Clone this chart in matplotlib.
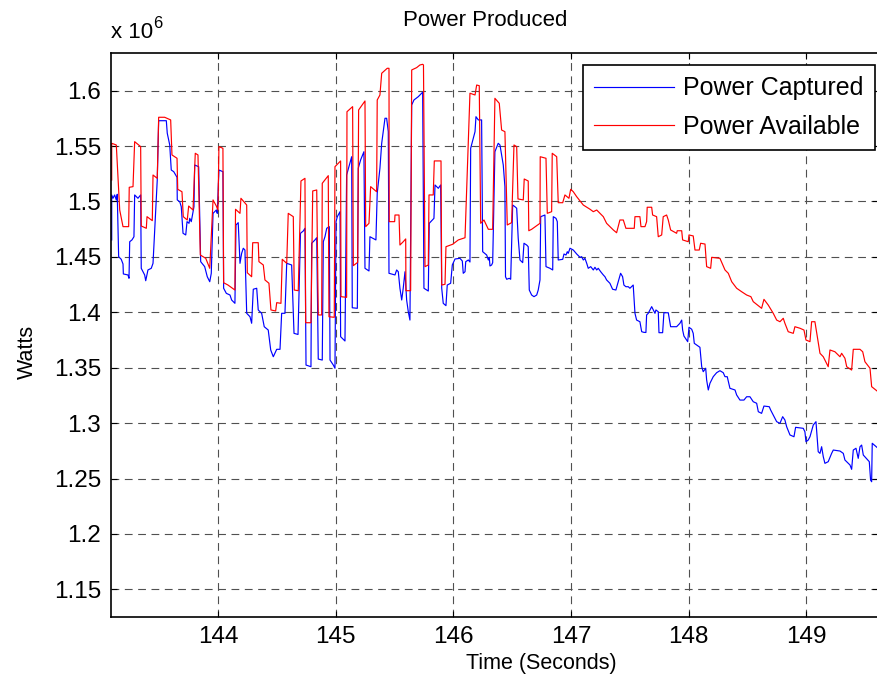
import matplotlib
matplotlib.use("Agg")
import matplotlib.pyplot as plt

plt.rcParams['font.family'] = ['Liberation Sans', 'DejaVu Sans']

# Time axis and power values (units of 10^6 W)
t_captured = [
    143.097, 143.097, 143.108, 143.122, 143.136, 143.144, 143.156, 143.178, 143.193, 143.196,
    143.235, 143.244, 143.250, 143.269, 143.286, 143.292, 143.320, 143.343, 143.348, 143.377,
    143.386, 143.405, 143.433, 143.448, 143.484, 143.496, 143.561, 143.569, 143.590, 143.603,
    143.624, 143.652, 143.654, 143.675, 143.688, 143.703, 143.726, 143.737, 143.754, 143.760,
    143.773, 143.796, 143.802, 143.836, 143.853, 143.887, 143.909, 143.930, 143.943, 143.958,
    143.986, 143.994, 144.008, 144.042, 144.048, 144.071, 144.102, 144.116, 144.144, 144.153,
    144.172, 144.187, 144.201, 144.215, 144.229, 144.244, 144.272, 144.286, 144.300, 144.329,
    144.342, 144.371, 144.393, 144.427, 144.448, 144.470, 144.499, 144.527, 144.541, 144.569,
    144.584, 144.626, 144.646, 144.680, 144.701, 144.725, 144.739, 144.748, 144.790, 144.796,
    144.824, 144.839, 144.852, 144.886, 144.895, 144.909, 144.924, 144.946, 144.952, 144.980,
    144.994, 145.003, 145.014, 145.037, 145.042, 145.079, 145.093, 145.116, 145.136, 145.141,
    145.184, 145.192, 145.212, 145.240, 145.249, 145.283, 145.291, 145.342, 145.353, 145.376,
    145.391, 145.419, 145.433, 145.447, 145.453, 145.504, 145.518, 145.532, 145.546, 145.561,
    145.574, 145.589, 145.603, 145.617, 145.631, 145.646, 145.665, 145.702, 145.739, 145.750,
    145.787, 145.795, 145.835, 145.844, 145.872, 145.892, 145.901, 145.914, 145.937, 145.948,
    145.977, 145.991, 146.014, 146.056, 146.076, 146.084, 146.099, 146.105, 146.127, 146.141,
    146.147, 146.184, 146.192, 146.212, 146.240, 146.249, 146.283, 146.297, 146.305, 146.311,
    146.325, 146.334, 146.353, 146.381, 146.396, 146.424, 146.438, 146.443, 146.453, 146.475,
    146.487, 146.504, 146.523, 146.538, 146.551, 146.566, 146.589, 146.600, 146.623, 146.636,
    146.645, 146.665, 146.685, 146.708, 146.721, 146.736, 146.742, 146.778, 146.787, 146.821,
    146.844, 146.849, 146.872, 146.883, 146.891, 146.929, 146.940, 146.957, 146.968, 146.976,
    146.991, 147.019, 147.048, 147.076, 147.090, 147.104, 147.118, 147.133, 147.146, 147.167,
    147.189, 147.203, 147.218, 147.231, 147.252, 147.274, 147.288, 147.302, 147.330, 147.353,
    147.381, 147.401, 147.421, 147.438, 147.449, 147.466, 147.486, 147.500, 147.528, 147.543,
    147.557, 147.585, 147.600, 147.619, 147.636, 147.642, 147.656, 147.685, 147.713, 147.721,
    147.741, 147.747, 147.778, 147.789, 147.826, 147.846, 147.897, 147.925, 147.940, 147.948,
    147.959, 147.991, 148.002, 148.025, 148.038, 148.047, 148.095, 148.110, 148.123, 148.144,
    148.152, 148.166, 148.180, 148.208, 148.237, 148.265, 148.293, 148.308, 148.327, 148.350,
    148.393, 148.407, 148.435, 148.469, 148.492, 148.520, 148.548, 148.577, 148.591, 148.619,
    148.639, 148.684, 148.696, 148.718, 148.747, 148.775, 148.798, 148.817, 148.832, 148.860,
    148.894, 148.908, 148.973, 148.987, 148.996, 149.015, 149.030, 149.058, 149.081, 149.100,
    149.115, 149.129, 149.143, 149.157, 149.185, 149.214, 149.228, 149.285, 149.313, 149.327,
    149.370, 149.384, 149.398, 149.421, 149.440, 149.455, 149.469, 149.483, 149.534, 149.545,
    149.554, 149.559, 149.608,
]
power_captured = [
    1.4653, 1.5059, 1.5029, 1.5059, 1.5014, 1.5065, 1.4502, 1.4478, 1.4436, 1.4346,
    1.4337, 1.4307, 1.4637, 1.4653, 1.4682, 1.5059, 1.5029, 1.5059, 1.4397, 1.4337,
    1.4285, 1.4382, 1.4397, 1.4442, 1.5194, 1.5729, 1.5729, 1.5616, 1.5510, 1.5284,
    1.5269, 1.5218, 1.5014, 1.4998, 1.4953, 1.4713, 1.4698, 1.4818, 1.4803, 1.4848,
    1.4818, 1.4953, 1.5329, 1.5314, 1.4457, 1.4412, 1.4321, 1.4276, 1.4352, 1.4893,
    1.4923, 1.4893, 1.5284, 1.5269, 1.4217, 1.4171, 1.4156, 1.4111, 1.4081, 1.4788,
    1.4809, 1.4442, 1.4532, 1.4578, 1.4562, 1.3991, 1.3960, 1.3901, 1.4208, 1.4217,
    1.4021, 1.3991, 1.3870, 1.3840, 1.3660, 1.3599, 1.3666, 1.3666, 1.3991, 1.3991,
    1.4442, 1.4427, 1.3810, 1.3800, 1.4713, 1.4734, 1.4758, 1.3524, 1.3509, 1.4623,
    1.4653, 1.4673, 1.3578, 1.3569, 1.4637, 1.4682, 1.4758, 1.4773, 1.3569, 1.3524,
    1.3495, 1.4818, 1.4863, 1.4908, 1.3780, 1.3741, 1.5239, 1.5329, 1.5404, 1.4041,
    1.4036, 1.5300, 1.5375, 1.5449, 1.4397, 1.4373, 1.4682, 1.4653, 1.5074, 1.5300,
    1.5525, 1.5751, 1.5751, 1.5630, 1.4352, 1.4337, 1.4382, 1.4366, 1.4217, 1.4111,
    1.4217, 1.4366, 1.4111, 1.4005, 1.3930, 1.5871, 1.5916, 1.5946, 1.5986, 1.4217,
    1.4192, 1.4803, 1.4848, 1.5149, 1.5119, 1.5149, 1.4217, 1.4081, 1.4060, 1.4246,
    1.4262, 1.4427, 1.4481, 1.4487, 1.4463, 1.4352, 1.4366, 1.4457, 1.4472, 1.4454,
    1.5480, 1.5630, 1.5765, 1.5736, 1.5736, 1.4547, 1.4517, 1.4472, 1.4496, 1.4418,
    1.4427, 1.4448, 1.5449, 1.5525, 1.5510, 1.5329, 1.5134, 1.4321, 1.4298, 1.4307,
    1.4298, 1.4968, 1.4953, 1.4939, 1.4668, 1.4472, 1.4448, 1.4623, 1.4607, 1.4592,
    1.4201, 1.4156, 1.4141, 1.4156, 1.4201, 1.4292, 1.4863, 1.4878, 1.4412, 1.4397,
    1.4382, 1.4863, 1.4848, 1.4818, 1.4472, 1.4478, 1.4526, 1.4517, 1.4547, 1.4532,
    1.4578, 1.4562, 1.4526, 1.4496, 1.4502, 1.4472, 1.4487, 1.4442, 1.4397, 1.4412,
    1.4382, 1.4406, 1.4382, 1.4397, 1.4366, 1.4337, 1.4321, 1.4292, 1.4262, 1.4208,
    1.4201, 1.4276, 1.4352, 1.4321, 1.4246, 1.4231, 1.4231, 1.4217, 1.4246, 1.3991,
    1.3930, 1.3915, 1.3825, 1.3819, 1.3818, 1.3976, 1.3991, 1.4051, 1.3991, 1.4021,
    1.4005, 1.3816, 1.3816, 1.3996, 1.3996, 1.3870, 1.3870, 1.3901, 1.3930, 1.3840,
    1.3786, 1.3735, 1.3865, 1.3847, 1.3810, 1.3720, 1.3684, 1.3509, 1.3464, 1.3495,
    1.3389, 1.3299, 1.3359, 1.3419, 1.3455, 1.3473, 1.3455, 1.3419, 1.3419, 1.3314,
    1.3299, 1.3254, 1.3208, 1.3208, 1.3238, 1.3238, 1.3193, 1.3179, 1.3103, 1.3088,
    1.3154, 1.3148, 1.3118, 1.3073, 1.3013, 1.2998, 1.3058, 1.3028, 1.2967, 1.2893,
    1.2877, 1.2962, 1.2953, 1.2922, 1.2832, 1.2847, 1.2877, 1.2983, 1.3013, 1.2742,
    1.2727, 1.2787, 1.2697, 1.2637, 1.2652, 1.2727, 1.2757, 1.2748, 1.2727, 1.2667,
    1.2622, 1.2583, 1.2757, 1.2773, 1.2682, 1.2787, 1.2802, 1.2712, 1.2652, 1.2486,
    1.2471, 1.2818, 1.2773,
]

t_available = [
    143.097, 143.097, 143.136, 143.165, 143.193, 143.241, 143.246, 143.278, 143.292, 143.343,
    143.348, 143.391, 143.397, 143.442, 143.448, 143.484, 143.496, 143.547, 143.598, 143.609,
    143.652, 143.658, 143.694, 143.705, 143.739, 143.751, 143.788, 143.807, 143.830, 143.850,
    143.896, 143.930, 143.958, 143.986, 144.000, 144.008, 144.042, 144.048, 144.085, 144.144,
    144.149, 144.187, 144.195, 144.244, 144.249, 144.286, 144.295, 144.342, 144.348, 144.385,
    144.399, 144.433, 144.450, 144.490, 144.499, 144.535, 144.546, 144.584, 144.597, 144.640,
    144.648, 144.682, 144.705, 144.739, 144.745, 144.790, 144.805, 144.839, 144.852, 144.881,
    144.886, 144.937, 144.943, 144.988, 144.994, 145.042, 145.045, 145.093, 145.096, 145.144,
    145.150, 145.187, 145.195, 145.249, 145.255, 145.283, 145.297, 145.348, 145.353, 145.376,
    145.391, 145.438, 145.453, 145.455, 145.501, 145.504, 145.538, 145.546, 145.574, 145.595,
    145.597, 145.637, 145.646, 145.688, 145.716, 145.739, 145.746, 145.759, 145.787, 145.793,
    145.829, 145.838, 145.895, 145.901, 145.929, 145.937, 145.994, 146.042, 146.099, 146.141,
    146.184, 146.198, 146.220, 146.232, 146.260, 146.297, 146.334, 146.353, 146.390, 146.410,
    146.438, 146.458, 146.495, 146.515, 146.538, 146.549, 146.594, 146.602, 146.636, 146.641,
    146.665, 146.736, 146.738, 146.787, 146.798, 146.835, 146.840, 146.878, 146.891, 146.929,
    146.948, 146.982, 146.997, 147.019, 147.048, 147.104, 147.161, 147.189, 147.218, 147.246,
    147.274, 147.302, 147.359, 147.387, 147.415, 147.444, 147.466, 147.537, 147.543, 147.585,
    147.594, 147.628, 147.642, 147.647, 147.685, 147.693, 147.727, 147.741, 147.770, 147.783,
    147.812, 147.826, 147.846, 147.897, 147.902, 147.940, 147.948, 147.996, 148.002, 148.038,
    148.053, 148.089, 148.101, 148.138, 148.152, 148.186, 148.195, 148.265, 148.308, 148.336,
    148.365, 148.407, 148.449, 148.492, 148.528, 148.548, 148.619, 148.639, 148.675, 148.718,
    148.747, 148.775, 148.803, 148.817, 148.845, 148.888, 148.902, 148.945, 148.979, 148.996,
    149.030, 149.044, 149.072, 149.092, 149.115, 149.143, 149.185, 149.200, 149.242, 149.285,
    149.299, 149.327, 149.342, 149.384, 149.398, 149.455, 149.478, 149.497, 149.540, 149.554,
    149.608,
]
power_available = [
    1.5194, 1.5525, 1.5510, 1.4923, 1.4773, 1.4773, 1.5128, 1.5134, 1.5540, 1.5495,
    1.4779, 1.4758, 1.4863, 1.4827, 1.5239, 1.5209, 1.5760, 1.5760, 1.5736, 1.5420,
    1.5390, 1.5110, 1.5088, 1.4863, 1.4833, 1.4959, 1.4923, 1.5435, 1.5420, 1.4517,
    1.4487, 1.4397, 1.5014, 1.4959, 1.4923, 1.5495, 1.5480, 1.4267, 1.4246, 1.4201,
    1.4930, 1.4893, 1.5029, 1.4968, 1.4357, 1.4321, 1.4628, 1.4628, 1.4457, 1.4427,
    1.4292, 1.4262, 1.4021, 1.4012, 1.4087, 1.4081, 1.4478, 1.4442, 1.4893, 1.4863,
    1.4201, 1.4195, 1.5185, 1.5209, 1.3906, 1.3906, 1.5095, 1.5104, 1.3976, 1.3976,
    1.5164, 1.5233, 1.3960, 1.3955, 1.5314, 1.5366, 1.4141, 1.4135, 1.5810, 1.5856,
    1.4421, 1.4451, 1.5826, 1.5907, 1.4773, 1.4803, 1.5134, 1.5088, 1.5916, 1.5961,
    1.6157, 1.6202, 1.6202, 1.4818, 1.4818, 1.4878, 1.4878, 1.4607, 1.4637, 1.4662,
    1.4195, 1.4195, 1.6187, 1.6208, 1.6232, 1.6238, 1.6232, 1.4412, 1.4427, 1.5059,
    1.5059, 1.5366, 1.5366, 1.4246, 1.4253, 1.4592, 1.4614, 1.4653, 1.4673, 1.5977,
    1.5961, 1.6051, 1.6045, 1.4803, 1.4833, 1.4749, 1.4749, 1.5931, 1.5886, 1.5645,
    1.5630, 1.4788, 1.4809, 1.5510, 1.5495, 1.5023, 1.5014, 1.5203, 1.5185, 1.4736,
    1.4749, 1.4803, 1.5404, 1.5390, 1.4893, 1.4908, 1.5435, 1.5404, 1.4989, 1.4989,
    1.5059, 1.5029, 1.5110, 1.5088, 1.5043, 1.4968, 1.4930, 1.4908, 1.4923, 1.4893,
    1.4863, 1.4803, 1.4743, 1.4718, 1.4833, 1.4833, 1.4758, 1.4758, 1.4863, 1.4863,
    1.4773, 1.4773, 1.4818, 1.4948, 1.4948, 1.4878, 1.4863, 1.4682, 1.4698, 1.4863,
    1.4878, 1.4833, 1.4743, 1.4713, 1.4736, 1.4736, 1.4653, 1.4637, 1.4698, 1.4689,
    1.4562, 1.4562, 1.4623, 1.4616, 1.4412, 1.4397, 1.4496, 1.4487, 1.4382, 1.4352,
    1.4276, 1.4217, 1.4186, 1.4156, 1.4141, 1.4096, 1.4036, 1.4117, 1.4066, 1.3991,
    1.3930, 1.3915, 1.3946, 1.3901, 1.3825, 1.3810, 1.3870, 1.3856, 1.3840, 1.3750,
    1.3735, 1.3915, 1.3915, 1.3780, 1.3630, 1.3599, 1.3509, 1.3660, 1.3644, 1.3599,
    1.3630, 1.3585, 1.3509, 1.3479, 1.3666, 1.3666, 1.3644, 1.3554, 1.3495, 1.3329,
    1.3283,
]

x_ticks = [144, 145, 146, 147, 148, 149]
y_ticks = [1.15, 1.2, 1.25, 1.3, 1.35, 1.4, 1.45, 1.5, 1.55, 1.6]
y_tick_labels = ['1.15', '1.2', '1.25', '1.3', '1.35', '1.4', '1.45', '1.5', '1.55', '1.6']

W, H = 878, 686
fig = plt.figure(figsize=(W / 100, H / 100), dpi=100)
ax = fig.add_axes([111 / W, (H - 616.7) / H, (W - 111) / W, (616.7 - 53) / H])

ax.plot(t_captured, power_captured, color='#0000ff', lw=0.85, label='Power Captured')
ax.plot(t_available, power_available, color='#ff0000', lw=0.85, label='Power Available')

ax.set_xlim(143.091, 149.608)
ax.set_ylim(1.1253, 1.634)
ax.set_xticks(x_ticks)
ax.set_yticks(y_ticks)
ax.set_yticklabels(y_tick_labels)

ax.grid(True, color='#505050', lw=0.8, linestyle=(0, (7, 5)))
ax.set_axisbelow(True)
ax.tick_params(direction='in', length=4, width=0.8, top=True, right=True,
               labelsize=17.5, colors='black')
ax.tick_params(axis='x', pad=7)
ax.tick_params(axis='y', pad=7)
for s in ax.spines.values():
    s.set_linewidth(1.2)

fig.text(485 / W, 1 - 20 / H, 'Power Produced', ha='center', va='center', fontsize=16)
fig.text(541 / W, 1 - 664 / H, 'Time (Seconds)', ha='center', va='center', fontsize=15.5)
fig.text(27 / W, 1 - 352 / H, 'Watts', ha='center', va='center', rotation=90, fontsize=15.5)
fig.text(111 / W, 1 - 38 / H, 'x 10', ha='left', va='baseline', fontsize=16)
fig.text(153 / W, 1 - 28 / H, '6', ha='left', va='baseline', fontsize=12)

leg = ax.legend(loc='upper right', bbox_to_anchor=(875 / W, 1 - 65 / H),
                bbox_transform=fig.transFigure, fontsize=18, frameon=True,
                fancybox=False, framealpha=1, edgecolor='black',
                handlelength=3.2, handletextpad=0.36, borderpad=0.45,
                labelspacing=0.58, borderaxespad=0)
leg.get_frame().set_linewidth(1.2)

fig.savefig('out.png', dpi=100)
